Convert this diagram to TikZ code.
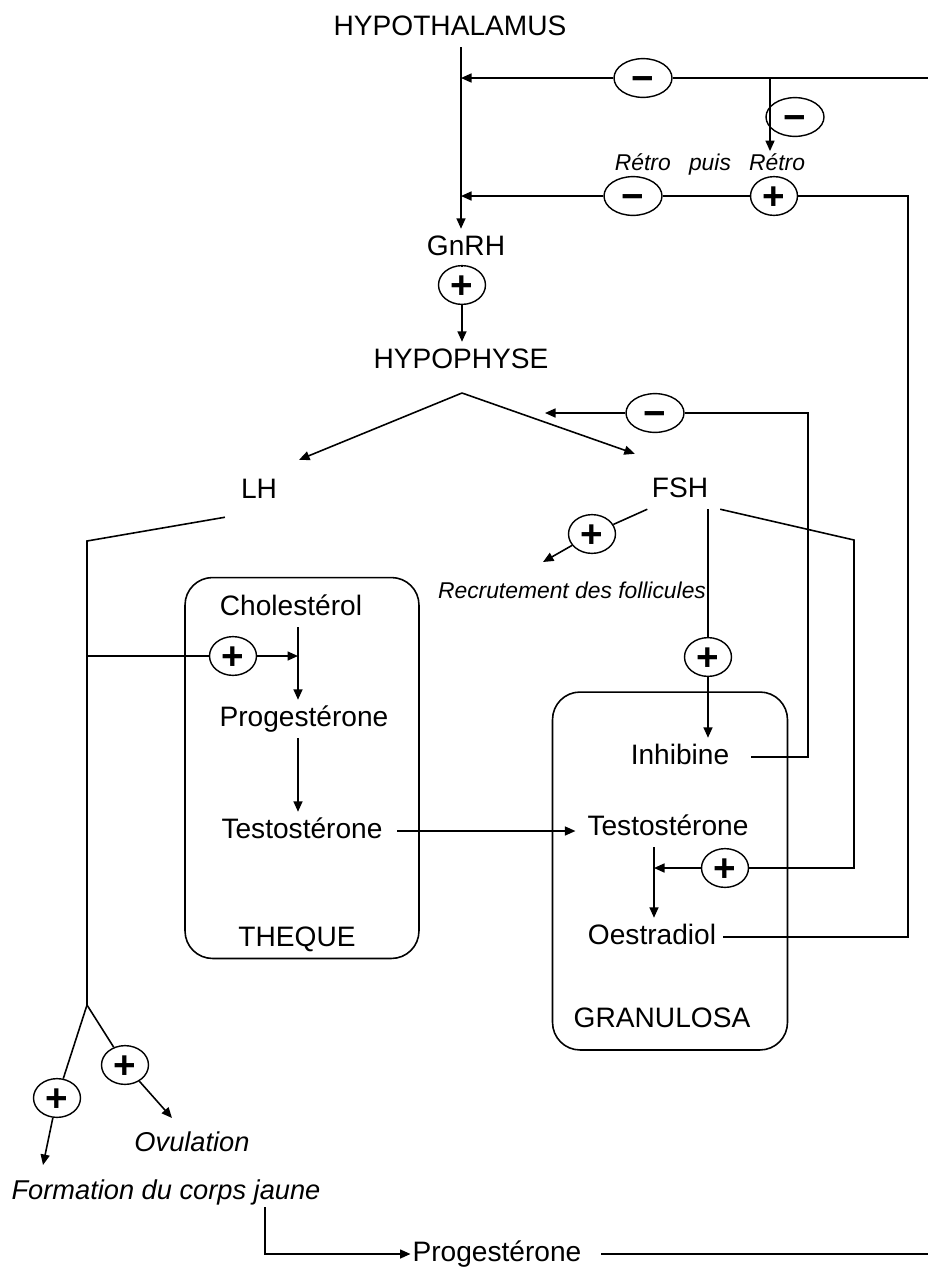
\documentclass[tikz,border=0pt]{standalone}
\usepackage{fontspec}
\setmainfont{Liberation Sans}
\usetikzlibrary{arrows.meta,positioning,shapes.geometric}

\begin{document}
\begin{tikzpicture}[
  x=0.02cm, y=-0.02cm,
  lbl/.style={font=\fontsize{16}{18}\selectfont, text height=12pt, text depth=3.5pt, inner xsep=1pt, inner ysep=3pt},
  effect/.style={font=\fontsize{13}{15}\selectfont\itshape, inner sep=1pt},
  bigeffect/.style={font=\fontsize{15.5}{18}\selectfont\itshape, inner sep=1pt},
  sign/.style={draw, ellipse, fill=white, inner sep=0pt, line width=0.8pt, text height=15.6pt, text depth=0pt, font=\fontsize{22}{22}\selectfont\bfseries},
  plus/.style={sign, minimum width=0.94cm, minimum height=0.64cm},
  minus/.style={sign, minimum width=1.16cm, minimum height=0.58cm},
  cell/.style={draw, rounded corners=0.55cm, line width=0.9pt},
  link/.style={line width=0.9pt},
  arrow/.style={-{Triangle[length=2.1mm,width=1.8mm]}, line width=0.9pt}
]
\useasboundingbox (0,0) rectangle (928,1285);

% boxes
\node[cell, minimum width=4.68cm, minimum height=7.62cm] (theque) at (302,768) {};
\node[cell, minimum width=4.7cm, minimum height=7.16cm] (granulosa) at (670,871) {};

% texts
\node[lbl] (hypothal) at (450,28) {HYPOTHALAMUS};
\node[lbl] (gnrh) at (466,248) {GnRH};
\node[lbl] (hypophyse) at (461,361) {HYPOPHYSE};
\node[lbl] (lh) at (259,491) {LH};
\node[lbl] (fsh) at (680,490) {FSH};
\node[effect] (recrut) at (572,590) {Recrutement des follicules};
\node[effect] (retro) at (710,164) {Rétro\hspace{0.8em}puis\hspace{0.8em}Rétro};
\node[lbl] (chol) at (291,608) {Cholestérol};
\node[lbl] (progT) at (304,719) {Progestérone};
\node[lbl] (testoT) at (302,831) {Testostérone};
\node[lbl] (thequeLbl) at (297,939) {THEQUE};
\node[lbl] (inhib) at (680,757) {Inhibine};
\node[lbl] (testoG) at (668,828) {Testostérone};
\node[lbl] (oestra) at (652,937) {Oestradiol};
\node[lbl] (granLbl) at (662,1020) {GRANULOSA};
\node[bigeffect] (ovul) at (192,1142) {Ovulation};
\node[bigeffect] (corps) at (166,1192) {Formation du corps jaune};
\node[lbl] (progCJ) at (497,1254) {Progestérone};

% signs
\node[minus] (m1) at (643,78) {−};
\node[minus] (m2) at (795,117) {−};
\node[minus, minimum height=0.5cm] (m3) at (633,196) {−};
\node[plus, minimum height=0.56cm] (p1) at (774,196) {+};
\node[plus] (p2) at (462,285) {+};
\node[minus] (m4) at (655,413) {−};
\node[plus] (p3) at (592,534) {+};
\node[plus] (p4) at (233,656) {+};
\node[plus] (p5) at (708,657) {+};
\node[plus] (p6) at (725,868) {+};
\node[plus] (p7) at (125,1065) {+};
\node[plus] (p8) at (57,1098) {+};

% fixed points
\coordinate (axis) at (461,0);
\coordinate (edge) at (928,0);
\coordinate (branch) at (770,78);
\coordinate (colOe) at (908,0);
\coordinate (colInh) at (808,0);
\coordinate (fbIn) at (545,413);
\coordinate (apex) at (462,393);
\coordinate (lhTurn) at (87,541);
\coordinate (lhFork) at (87,1005);
\coordinate (thAxis) at (298,0);
\coordinate (grAxis) at (654,0);
\coordinate (fshTurn) at (854,540);
\coordinate (recrutTip) at (543,562);
\coordinate (ovulTip) at (172,1118);
\coordinate (corpsTip) at (43,1165);
\coordinate (jaune) at (265,1207);

% hypothalamus -> hypophyse
\draw[arrow] (axis |- hypothal.south) -- (axis |- gnrh.north);
\draw[link] (p2 |- gnrh.south) -- (p2);
\draw[arrow] (p2) -- (p2 |- hypophyse.north);
\draw[arrow] (apex) -- ([xshift=0.4cm,yshift=0.24cm]lh.north east);
\draw[arrow] (apex) -- ([xshift=-0.3cm,yshift=0.34cm]fsh.north west);

% retrocontroles
\draw[link] (edge |- m1) -- (m1);
\draw[arrow] (m1) -- (axis |- m1);
\draw[arrow] (branch) -- (branch |- retro.north);
\draw[link] ([xshift=0.1cm]oestra.east) -- (oestra.east -| colOe) -- (colOe |- p1) -- (p1);
\draw[link] (p1) -- (m3);
\draw[arrow] (m3) -- (axis |- m3);
\draw[link] ([xshift=0.4cm]inhib.east) -- (inhib.east -| colInh) -- (colInh |- m4) -- (m4);
\draw[arrow] (m4) -- (fbIn);

% LH
\draw[link] ([xshift=-0.28cm,yshift=-0.14cm]lh.south west) -- (lhTurn) -- (lhFork);
\draw[link] (lhTurn |- p4) -- (p4);
\draw[arrow] (p4) -- (thAxis |- p4);
\draw[arrow] (thAxis |- chol.south) -- (thAxis |- progT.north);
\draw[arrow] (thAxis |- progT.south) -- (thAxis |- testoT.north);
\draw[arrow] ([xshift=0.25cm]testoT.east) -- ([xshift=-0.2cm]testoT.east -| testoG.west);
\draw[link] (lhFork) -- (p7);
\draw[arrow] (p7) -- (ovulTip);
\draw[link] (lhFork) -- (p8);
\draw[arrow] (p8) -- (corpsTip);
\draw[arrow] (jaune) |- (progCJ.west);
\draw[link] ([xshift=0.35cm]progCJ.east) -- (progCJ.east -| edge);

% FSH
\draw[link] ([xshift=-0.05cm]fsh.south west) -- (p3);
\draw[arrow] (p3) -- (recrutTip);
\draw[link] (p5 |- fsh.south) -- (p5);
\draw[arrow] (p5) -- (p5 |- inhib.north);
\draw[link] ([xshift=0.2cm]fsh.south east) -- (fshTurn) -- (fshTurn |- p6) -- (p6);
\draw[arrow] (p6) -- (grAxis |- p6);
\draw[arrow] (grAxis |- testoG.south) -- (grAxis |- oestra.north);
\end{tikzpicture}
\end{document}
